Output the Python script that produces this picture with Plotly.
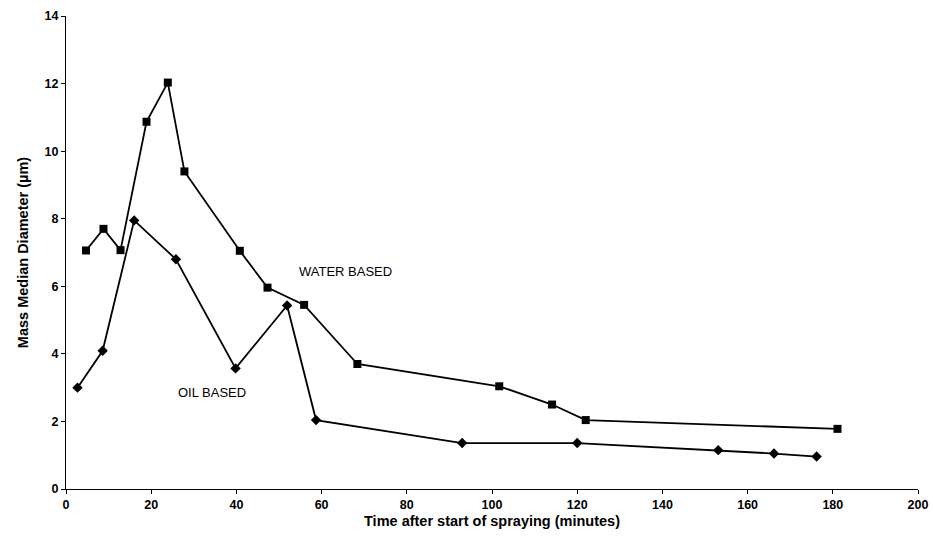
import plotly.graph_objects as go

water_x = [4.7, 8.8, 12.8, 18.9, 23.9, 27.8, 40.8, 47.3, 55.9, 68.4, 101.7, 114.1, 122.0, 181.1]
water_y = [7.06, 7.7, 7.07, 10.87, 12.03, 9.4, 7.05, 5.96, 5.45, 3.7, 3.04, 2.5, 2.04, 1.78]

oil_x = [2.7, 8.6, 16.0, 25.8, 39.8, 51.9, 58.7, 93.0, 120.0, 153.1, 166.2, 176.2]
oil_y = [3.0, 4.09, 7.95, 6.8, 3.57, 5.43, 2.04, 1.36, 1.36, 1.15, 1.05, 0.96]

x_ticks = [0, 20, 40, 60, 80, 100, 120, 140, 160, 180, 200]
y_ticks = [0, 2, 4, 6, 8, 10, 12, 14]

fig = go.Figure()
fig.add_trace(go.Scatter(x=water_x, y=water_y, mode="lines+markers", name="WATER BASED",
                         line=dict(color="black", width=1.8),
                         marker=dict(symbol="square", size=8, color="black")))
fig.add_trace(go.Scatter(x=oil_x, y=oil_y, mode="lines+markers", name="OIL BASED",
                         line=dict(color="black", width=1.8),
                         marker=dict(symbol="diamond", size=8, color="black")))

fig.add_annotation(x=65.7, y=6.44, text="WATER BASED", showarrow=False,
                   font=dict(family="Liberation Sans, Arial", size=13, color="black"))
fig.add_annotation(x=34.3, y=2.85, text="OIL BASED", showarrow=False,
                   font=dict(family="Liberation Sans, Arial", size=13, color="black"))

fig.update_layout(
    width=933, height=539,
    margin=dict(l=66, r=15, t=16, b=50, autoexpand=False),
    plot_bgcolor="white", paper_bgcolor="white",
    showlegend=False,
    font=dict(family="Liberation Sans, Arial", color="black"),
)
fig.update_xaxes(range=[0, 200], tickvals=x_ticks, showgrid=False, zeroline=False,
                 showline=True, linecolor="black", linewidth=1.2, automargin=False,
                 ticks="outside", ticklen=4, tickcolor="black",
                 tickfont=dict(size=12.5, family="Liberation Sans, Arial", weight="bold"),
                 title=dict(text="Time after start of spraying (minutes)", standoff=4,
                            font=dict(size=14.5, family="Liberation Sans, Arial", weight="bold")))
fig.update_yaxes(range=[0, 14], tickvals=y_ticks, showgrid=False, zeroline=False,
                 showline=True, linecolor="black", linewidth=1.2, automargin=False,
                 ticks="outside", ticklen=4, tickcolor="black",
                 tickfont=dict(size=12.5, family="Liberation Sans, Arial", weight="bold"),
                 title=dict(text="Mass Median Diameter (µm)", standoff=12,
                            font=dict(size=14.5, family="Liberation Sans, Arial", weight="bold")))

fig.write_html("out.html")
